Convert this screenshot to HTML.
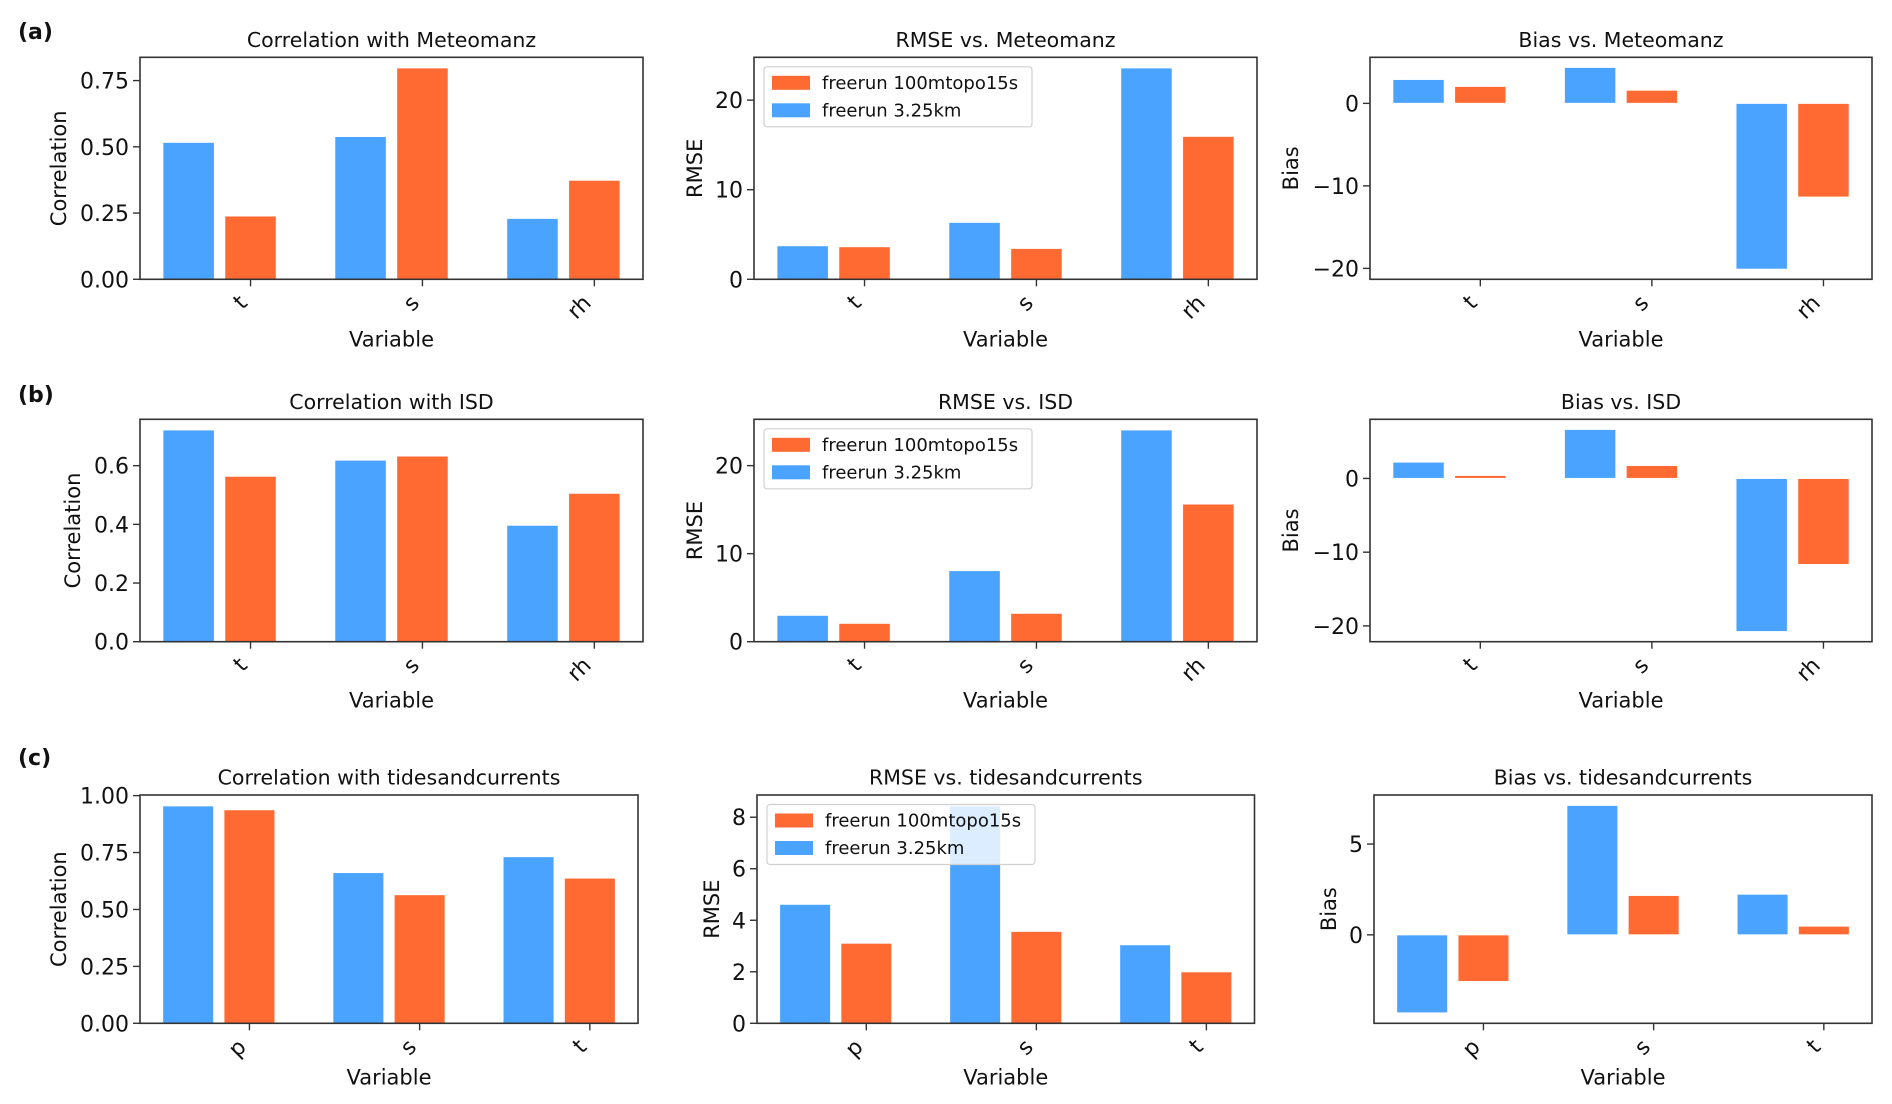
<!DOCTYPE html>
<html>
<head>
<meta charset="utf-8">
<style>
  html,body{margin:0;padding:0;background:#fff;}
  svg{display:block;font-family:"DejaVu Sans","Liberation Sans",sans-serif;}
</style>
</head>
<body>
<svg id="fig" width="1892" height="1104" viewBox="0 0 1892 1104" xmlns="http://www.w3.org/2000/svg">
  <text x="18" y="39" font-size="22" font-weight="bold" fill="#111">(a)</text>
  <text x="18" y="402" font-size="22" font-weight="bold" fill="#111">(b)</text>
  <text x="18" y="765" font-size="22" font-weight="bold" fill="#111">(c)</text>
</svg>
<script>
// ---- data ----
const catsAB = ["t", "s", "rh"];
const catsC = ["p", "s", "t"];
const seriesNames = ["freerun 100mtopo15s", "freerun 3.25km"];

const corrA_blue = [0.517, 0.539, 0.230];
const corrA_orange = [0.239, 0.798, 0.374];
const rmseA_blue = [3.75, 6.36, 23.6];
const rmseA_orange = [3.64, 3.45, 15.96];
const biasA_blue = [2.9, 4.36, -20.1];
const biasA_orange = [2.06, 1.6, -11.36];

const corrB_blue = [0.722, 0.619, 0.397];
const corrB_orange = [0.564, 0.633, 0.506];
const rmseB_blue = [3.0, 8.08, 24.06];
const rmseB_orange = [2.09, 3.23, 15.64];
const biasB_blue = [2.22, 6.65, -20.77];
const biasB_orange = [0.41, 1.76, -11.67];

const corrC_blue = [0.955, 0.662, 0.732];
const corrC_orange = [0.938, 0.565, 0.638];
const rmseC_blue = [4.62, 8.44, 3.05];
const rmseC_orange = [3.11, 3.57, 2.0];
const biasC_blue = [-4.30, 7.13, 2.24];
const biasC_orange = [-2.57, 2.17, 0.48];

const ticksCorr4 = [0, 0.25, 0.5, 0.75];
const ticksCorrB = [0, 0.2, 0.4, 0.6];
const ticksCorrC = [0, 0.25, 0.5, 0.75, 1.0];
const ticksRmse = [0, 10, 20];
const ticksRmseC = [0, 2, 4, 6, 8];
const ticksBias = [-20, -10, 0];
const ticksBiasC = [0, 5];

// ---- layout ----
const BLUE = "#4aa4ff", ORANGE = "#ff6a33";
const NS = "http://www.w3.org/2000/svg";
const svg = document.getElementById("fig");

function mk(tag, attrs, parent) {
  const e = document.createElementNS(NS, tag);
  for (const k in attrs) e.setAttribute(k, attrs[k]);
  (parent || svg).appendChild(e);
  return e;
}
function fmt(v, dec) { return (v < 0 ? "\u2212" : "") + Math.abs(v).toFixed(dec); }

const panels = [
  {id:"corr-a", title:"Correlation with Meteomanz", ylab:"Correlation", L:140, R:643, T:57.3, B:279.3, cats:catsAB, blue:corrA_blue, orange:corrA_orange, ticks:ticksCorr4, dec:2, ylx:59, xlo:67, legend:false},
  {id:"rmse-a", title:"RMSE vs. Meteomanz", ylab:"RMSE", L:754, R:1257, T:57.3, B:279.3, cats:catsAB, blue:rmseA_blue, orange:rmseA_orange, ticks:ticksRmse, dec:0, ylx:695, xlo:67, legend:true},
  {id:"bias-a", title:"Bias vs. Meteomanz", ylab:"Bias", L:1370, R:1872, T:57.3, B:279.3, cats:catsAB, blue:biasA_blue, orange:biasA_orange, ticks:ticksBias, dec:0, ylx:1291, xlo:67, legend:false},
  {id:"corr-b", title:"Correlation with ISD", ylab:"Correlation", L:140, R:643, T:419.3, B:641.7, cats:catsAB, blue:corrB_blue, orange:corrB_orange, ticks:ticksCorrB, dec:1, ylx:73, xlo:66, legend:false},
  {id:"rmse-b", title:"RMSE vs. ISD", ylab:"RMSE", L:754, R:1257, T:419.3, B:641.7, cats:catsAB, blue:rmseB_blue, orange:rmseB_orange, ticks:ticksRmse, dec:0, ylx:695, xlo:66, legend:true},
  {id:"bias-b", title:"Bias vs. ISD", ylab:"Bias", L:1370, R:1872, T:419.3, B:641.7, cats:catsAB, blue:biasB_blue, orange:biasB_orange, ticks:ticksBias, dec:0, ylx:1291, xlo:66, legend:false},
  {id:"corr-c", title:"Correlation with tidesandcurrents", ylab:"Correlation", L:140, R:638, T:795, B:1023.3, cats:catsC, blue:corrC_blue, orange:corrC_orange, ticks:ticksCorrC, dec:2, ylx:59, xlo:61, legend:false},
  {id:"rmse-c", title:"RMSE vs. tidesandcurrents", ylab:"RMSE", L:757, R:1254.5, T:795, B:1023.3, cats:catsC, blue:rmseC_blue, orange:rmseC_orange, ticks:ticksRmseC, dec:0, ylx:712, xlo:61, legend:true},
  {id:"bias-c", title:"Bias vs. tidesandcurrents", ylab:"Bias", L:1374, R:1872, T:795, B:1023.3, cats:catsC, blue:biasC_blue, orange:biasC_orange, ticks:ticksBiasC, dec:0, ylx:1329, xlo:61, legend:false}
];

const OFF = 0.36, W = 0.3;

panels.forEach(p => {
  const g = mk("g", {});
  
  

  const xmin0 = -OFF - W/2, xmax0 = (p.cats.length - 1) + W/2;
  const xm = (xmax0 - xmin0) * 0.05;
  const x0 = xmin0 - xm, x1 = xmax0 + xm;
  const X = v => p.L + (v - x0) / (x1 - x0) * (p.R - p.L);
  const all = p.blue.concat(p.orange, [0]);
  let lo = Math.min(...all), hi = Math.max(...all);
  const ym = (hi - lo) * 0.05;
  const y0 = lo < 0 ? lo - ym : 0, y1 = hi + ym;
  const Y = v => p.B - (v - y0) / (y1 - y0) * (p.B - p.T);

  p.cats.forEach((c, i) => {
    [[p.blue, -OFF, BLUE, "blue"], [p.orange, 0, ORANGE, "orange"]].forEach(([arr, off, col, nm]) => {
      const v = arr[i];
      const xa = X(i + off - W/2), xb = X(i + off + W/2);
      const ya = Y(Math.max(v, 0)), yb = Y(Math.min(v, 0));
      const r = mk("rect", {x: xa, y: ya, width: xb - xa, height: Math.max(yb - ya, 0.5), fill: col, stroke: "#ffffff", "stroke-width": 1}, g);
      
      
    });
  });

  const fr = mk("rect", {x: p.L, y: p.T, width: p.R - p.L, height: p.B - p.T, fill: "none", stroke: "#333", "stroke-width": 1.6}, g);
  
  

  p.ticks.forEach(t => {
    const y = Y(t);
    mk("line", {x1: p.L - 7, x2: p.L, y1: y, y2: y, stroke: "#333", "stroke-width": 1.4}, g);
    const tl = mk("text", {x: p.L - 11, y: y + 8, "text-anchor": "end", "font-size": 22, fill: "#111"}, g);
    tl.textContent = fmt(t, p.dec);
    
    
  });

  p.cats.forEach((c, i) => {
    const x = X(i);
    mk("line", {x1: x, x2: x, y1: p.B, y2: p.B + 7, stroke: "#333", "stroke-width": 1.4}, g);
    const ax = x - 2, ay = p.B + 25;
    const tl = mk("text", {x: ax, y: ay, "text-anchor": "end", "font-size": 22, fill: "#111", transform: "rotate(-45 " + ax + " " + ay + ")"}, g);
    tl.textContent = c;
    
    
  });

  const tt = mk("text", {x: (p.L + p.R) / 2, y: p.T - 10.5, "text-anchor": "middle", "font-size": 20.5, fill: "#111"}, g);
  tt.textContent = p.title;
  
  

  const xl = mk("text", {x: (p.L + p.R) / 2, y: p.B + p.xlo, "text-anchor": "middle", "font-size": 21, fill: "#111"}, g);
  xl.textContent = "Variable";
  
  

  const cy = (p.T + p.B) / 2;
  const yl = mk("text", {x: p.ylx, y: cy, "text-anchor": "middle", "dominant-baseline": "central", "font-size": 21, fill: "#111", transform: "rotate(-90 " + p.ylx + " " + cy + ")"}, g);
  yl.textContent = p.ylab;
  
  

  if (p.legend) {
    const lg = mk("g", {}, g);
    
    
    const lx = p.L + 10, ly = p.T + 9.5;
    mk("rect", {x: lx, y: ly, width: 268, height: 60, rx: 3, fill: "#ffffff", "fill-opacity": 0.8, stroke: "#d0d0d0", "stroke-width": 1.2}, lg);
    [[ORANGE, seriesNames[0]], [BLUE, seriesNames[1]]].forEach(([col, name], k) => {
      const e = mk("g", {}, lg);
      
      
      mk("rect", {x: lx + 8, y: ly + 9 + k * 27.5, width: 38, height: 14, fill: col}, e);
      const t = mk("text", {x: lx + 58, y: ly + 22 + k * 27.5, "font-size": 18, fill: "#111"}, e);
      t.textContent = name;
    });
  }
});
</script>
</body>
</html>
